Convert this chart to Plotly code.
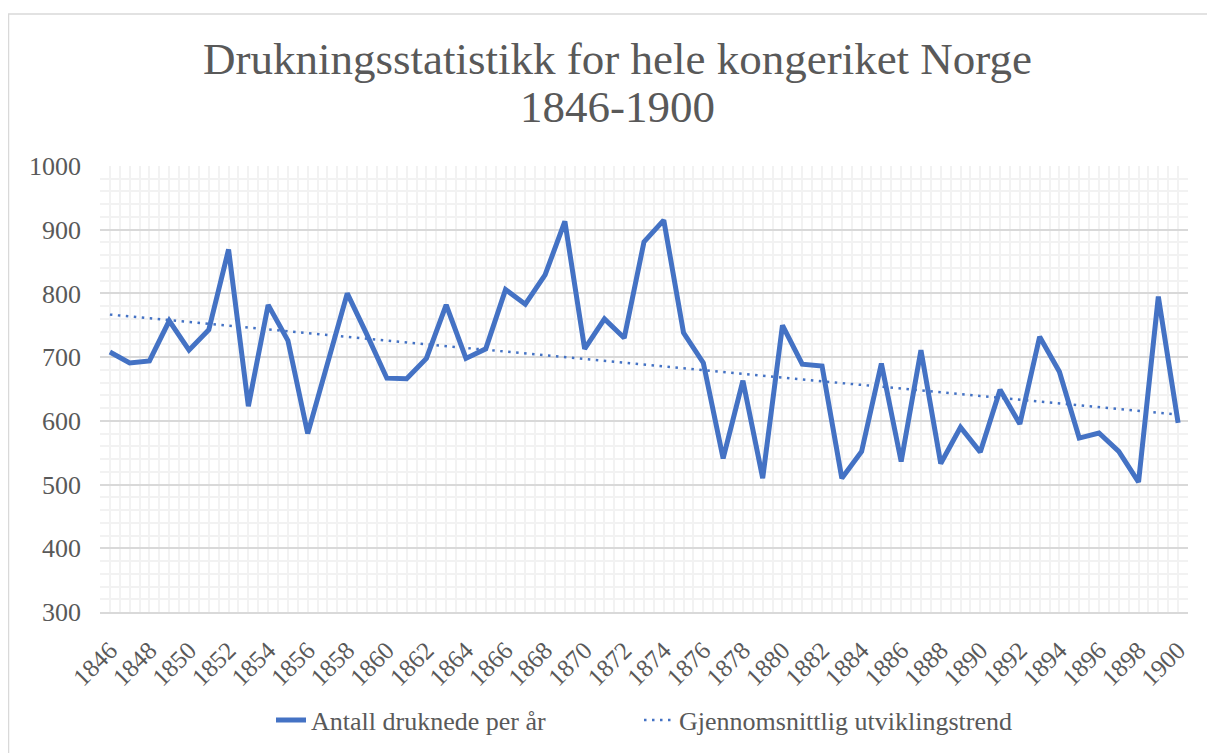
import numpy as np
import plotly.graph_objects as go

years = [1846, 1847, 1848, 1849, 1850, 1851, 1852, 1853, 1854, 1855,
         1856, 1857, 1858, 1859, 1860, 1861, 1862, 1863, 1864, 1865,
         1866, 1867, 1868, 1869, 1870, 1871, 1872, 1873, 1874, 1875,
         1876, 1877, 1878, 1879, 1880, 1881, 1882, 1883, 1884, 1885,
         1886, 1887, 1888, 1889, 1890, 1891, 1892, 1893, 1894, 1895,
         1896, 1897, 1898, 1899, 1900]
drowned = [708, 691, 694, 757, 711, 743, 869, 623, 782, 726,
           580, 690, 800, 735, 667, 666, 698, 782, 698, 713,
           806, 783, 829, 913, 713, 760, 730, 881, 915, 738,
           691, 541, 663, 510, 750, 689, 686, 510, 552, 690,
           536, 711, 533, 590, 551, 649, 595, 732, 677, 573,
           581, 552, 504, 795, 597]

series_name = "Antall druknede per år"
trend_name = "Gjennomsnittlig utviklingstrend"
title_line1 = "Drukningsstatistikk for hele kongeriket Norge"
title_line2 = "1846-1900"

# linear trendline computed from the data
slope, intercept = np.polyfit(years, drowned, 1)
trend = [slope * y + intercept for y in years]

FONT = "Liberation Serif"
GREY = "#595959"
BLUE = "#4472C4"

fig = go.Figure()
fig.add_trace(go.Scatter(x=years, y=drowned, mode="lines", name=series_name,
                         line=dict(color=BLUE, width=5), legend="legend"))
fig.add_trace(go.Scatter(x=years, y=trend, mode="lines", name=trend_name,
                         line=dict(color=BLUE, width=2.5, dash="2.5px,5.5px"),
                         legend="legend2"))

# the page body adds an 8px offset; positions below are in figure pixels
OFF = 8
W, H = 1215, 753
L, T = 100 - OFF, 166 - OFF
R = W - (1188 - OFF)
B = H - (612 - OFF)
pw, ph = W - L - R, H - T - B

def px_x(p):
    return (p - OFF - L) / pw

def px_y(p):
    return (H - B - (p - OFF)) / ph

legend_common = dict(orientation="h", xanchor="left", yanchor="middle",
                     y=px_y(720), font=dict(size=26, color=GREY, family=FONT),
                     bgcolor="rgba(0,0,0,0)")

fig.update_layout(
    width=W, height=H,
    margin=dict(l=L, r=R, t=T, b=B),
    paper_bgcolor="white", plot_bgcolor="white",
    font=dict(family=FONT, color=GREY, size=26),
    showlegend=True,
    legend=dict(x=px_x(271), **legend_common),
    legend2=dict(x=px_x(639), **legend_common),
    xaxis=dict(range=[1845.5, 1900.5], tickmode="linear", tick0=1846, dtick=2,
               tickangle=-45, showgrid=True, gridcolor="#f2f2f2", gridwidth=1.5,
               minor=dict(tickmode="linear", tick0=1845.5, dtick=0.5,
                          showgrid=True, gridcolor="#f2f2f2", gridwidth=1.5),
               showline=True, linecolor="#d9d9d9", linewidth=1.5,
               zeroline=False, ticks="", ticklabelstandoff=12,
               tickfont=dict(size=25, color=GREY, family=FONT)),
    yaxis=dict(range=[300, 1000], tickmode="linear", tick0=300, dtick=100,
               showgrid=True, gridcolor="#d9d9d9", gridwidth=1.5,
               minor=dict(tickmode="linear", tick0=300, dtick=20,
                          showgrid=True, gridcolor="#f2f2f2", gridwidth=1.5),
               zeroline=False, showline=False, ticks="",
               ticklabelstandoff=18,
               tickfont=dict(size=26, color=GREY, family=FONT)),
    shapes=[dict(type="rect", xref="paper", yref="paper",
                 x0=px_x(8.5), x1=px_x(1214), y0=px_y(780), y1=px_y(14),
                 line=dict(color="#d9d9d9", width=1.5), layer="below")],
    annotations=[
        dict(text=title_line1, xref="paper", yref="paper", x=px_x(617.5), y=px_y(59),
             xanchor="center", yanchor="middle", showarrow=False,
             font=dict(size=45, color=GREY, family=FONT)),
        dict(text=title_line2, xref="paper", yref="paper", x=px_x(617.5), y=px_y(107),
             xanchor="center", yanchor="middle", showarrow=False,
             font=dict(size=45, color=GREY, family=FONT)),
    ],
)

fig.write_html("out.html")
